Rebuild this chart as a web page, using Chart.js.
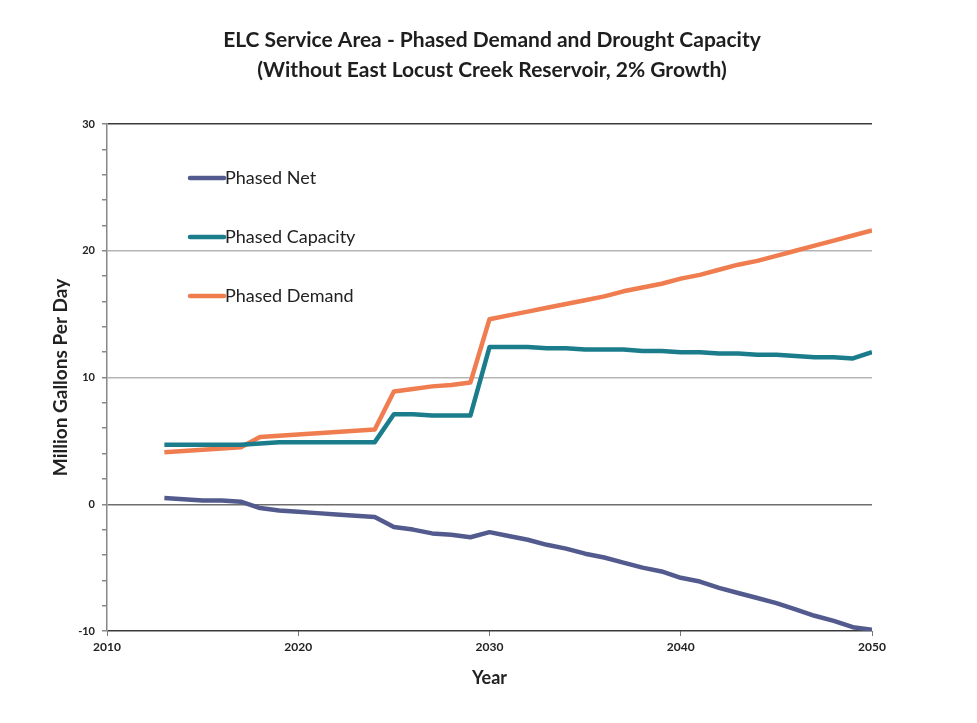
<!DOCTYPE html>
<html>
<head>
<meta charset="utf-8">
<title>ELC Service Area - Phased Demand and Drought Capacity</title>
<script src="https://cdn.jsdelivr.net/npm/chart.js@4/dist/chart.umd.min.js"></script>
<style>
    html, body { margin: 0; padding: 0; background: #fff; }
    #wrap { position: relative; width: 977px; height: 723px; }
</style>
</head>
<body>
<div id="wrap"><canvas id="chart-demand"></canvas></div>
<script>
// Years 2013-2050, one value per year (million gallons per day)
const years = [
    2013, 2014, 2015, 2016, 2017, 2018, 2019, 2020, 2021, 2022,
    2023, 2024, 2025, 2026, 2027, 2028, 2029, 2030, 2031, 2032,
    2033, 2034, 2035, 2036, 2037, 2038, 2039, 2040, 2041, 2042,
    2043, 2044, 2045, 2046, 2047, 2048, 2049, 2050
];

const phasedNet = [
    0.5, 0.4, 0.3, 0.3, 0.2, -0.3, -0.5, -0.6, -0.7, -0.8,
    -0.9, -1.0, -1.8, -2.0, -2.3, -2.4, -2.6, -2.2, -2.5, -2.8,
    -3.2, -3.5, -3.9, -4.2, -4.6, -5.0, -5.3, -5.8, -6.1, -6.6,
    -7.0, -7.4, -7.8, -8.3, -8.8, -9.2, -9.7, -9.9
];

const phasedCapacity = [
    4.7, 4.7, 4.7, 4.7, 4.7, 4.8, 4.9, 4.9, 4.9, 4.9,
    4.9, 4.9, 7.1, 7.1, 7.0, 7.0, 7.0, 12.4, 12.4, 12.4,
    12.3, 12.3, 12.2, 12.2, 12.2, 12.1, 12.1, 12.0, 12.0, 11.9,
    11.9, 11.8, 11.8, 11.7, 11.6, 11.6, 11.5, 12.0
];

const phasedDemand = [
    4.1, 4.2, 4.3, 4.4, 4.5, 5.3, 5.4, 5.5, 5.6, 5.7,
    5.8, 5.9, 8.9, 9.1, 9.3, 9.4, 9.6, 14.6, 14.9, 15.2,
    15.5, 15.8, 16.1, 16.4, 16.8, 17.1, 17.4, 17.8, 18.1, 18.5,
    18.9, 19.2, 19.6, 20.0, 20.4, 20.8, 21.2, 21.6
];

const seriesNames = ['Phased Net', 'Phased Capacity', 'Phased Demand'];
const seriesColors = ['#535b8e', '#1b7d8c', '#ef7d4f'];

const titleLines = [
    'ELC Service Area - Phased Demand and Drought Capacity',
    '(Without East Locust Creek Reservoir, 2% Growth)'
];

const FONT = 'Lato, "Open Sans", sans-serif';

function toPoints(values) {
    return values.map((v, i) => ({ x: years[i], y: v }));
}

// Two-line title, centred on the page rather than on the padded layout box
const pageTitle = {
    id: 'pageTitle',
    afterDraw(chart) {
        const ctx = chart.ctx;
        ctx.save();
        ctx.font = 'bold 21px ' + FONT;
        ctx.fillStyle = '#1e1e1e';
        ctx.textAlign = 'center';
        ctx.textBaseline = 'middle';
        titleLines.forEach((line, i) => ctx.fillText(line, 492, 40 + i * 30));
        ctx.restore();
    }
};

// Legend drawn inside the plot, upper left
const insideLegend = {
    id: 'insideLegend',
    afterDatasetsDraw(chart) {
        const ctx = chart.ctx;
        const x0 = 190, rowY = [178, 237, 296];
        ctx.save();
        ctx.font = '18px ' + FONT;
        ctx.textBaseline = 'middle';
        ctx.lineCap = 'round';
        chart.data.datasets.forEach((ds, i) => {
            ctx.strokeStyle = ds.borderColor;
            ctx.lineWidth = 4.5;
            ctx.beginPath();
            ctx.moveTo(x0, rowY[i]);
            ctx.lineTo(x0 + 34, rowY[i]);
            ctx.stroke();
            ctx.fillStyle = '#222';
            ctx.fillText(ds.label, x0 + 35, rowY[i]);
        });
        ctx.restore();
    }
};

document.addEventListener('DOMContentLoaded', () => {
    const ctx = document.getElementById('chart-demand').getContext('2d');
    const datasets = [phasedNet, phasedCapacity, phasedDemand].map((vals, i) => ({
        label: seriesNames[i],
        data: toPoints(vals),
        borderColor: seriesColors[i],
        backgroundColor: seriesColors[i],
        borderWidth: 4.5,
        pointRadius: 0,
        tension: 0,
        borderJoinStyle: 'round'
    }));

    new Chart(ctx, {
        type: 'line',
        data: { datasets },
        options: {
            responsive: true,
            maintainAspectRatio: false,
            animation: false,
            layout: { padding: { left: 0, right: 105, top: 124, bottom: 34 } },
            plugins: {
                legend: { display: false },
                tooltip: { enabled: false },
                title: { display: false }
            },
            scales: {
                x: {
                    type: 'linear',
                    min: 2010,
                    max: 2050,
                    afterFit: s => { s.height = 58; },
                    ticks: {
                        stepSize: 10,
                        color: '#222',
                        padding: 4,
                        font: { family: FONT, size: 12, weight: 'bold' },
                        callback: v => String(v)
                    },
                    grid: { drawOnChartArea: false, tickLength: 5, color: '#777' },
                    border: { display: false },
                    title: {
                        display: true,
                        text: 'Year',
                        color: '#222',
                        font: { family: FONT, size: 18, weight: 'bold' },
                        padding: { top: 8, bottom: 0 }
                    }
                },
                y: {
                    min: -10,
                    max: 30,
                    afterFit: s => { s.width = 107; },
                    ticks: {
                        stepSize: 2,
                        color: '#222',
                        padding: 7,
                        font: { family: FONT, size: 11, weight: 'bold' },
                        callback: v => (v % 10 === 0 ? v : '')
                    },
                    grid: {
                        tickLength: 5,
                        color: c => {
                            const v = c.tick.value;
                            if (v % 10 !== 0) return 'rgba(0,0,0,0)';
                            if (v === 30 || v === -10) return '#3a3a3a';
                            if (v === 0) return '#6e6e6e';
                            return '#b5b5b5';
                        },
                        tickColor: '#888',
                        lineWidth: 1.5
                    },
                    border: { display: true, color: '#888', width: 1.5 },
                    title: {
                        display: true,
                        text: 'Million Gallons Per Day',
                        color: '#222',
                        font: { family: FONT, size: 19, weight: 'bold' },
                        padding: { top: 49, bottom: 0 }
                    }
                }
            }
        },
        plugins: [insideLegend, pageTitle]
    });
});
</script>
</body>
</html>
